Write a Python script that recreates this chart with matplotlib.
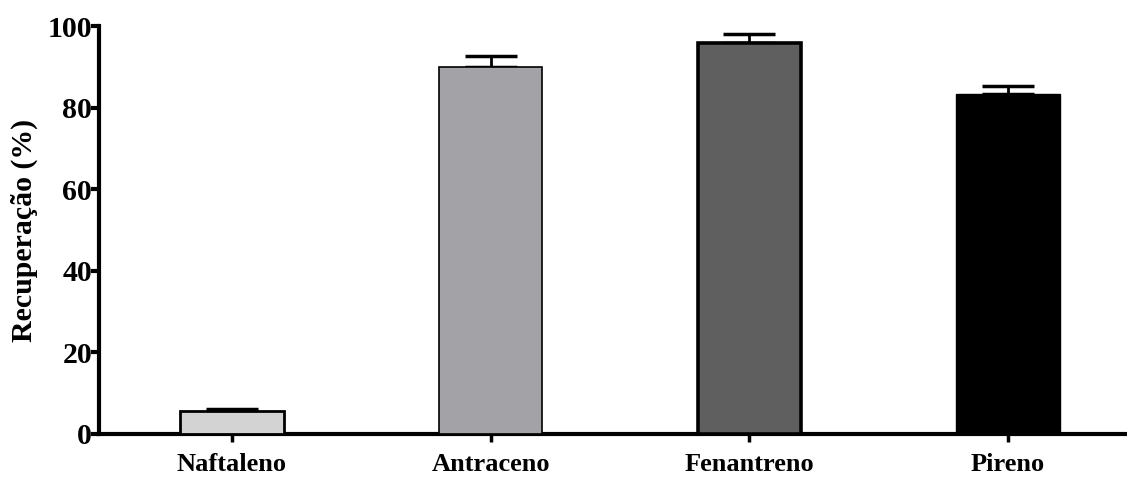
import matplotlib
matplotlib.use("Agg")
import matplotlib.pyplot as plt
import numpy as np

categories = ["Naftaleno", "Antraceno", "Fenantreno", "Pireno"]
values = [5.6, 90.0, 95.8, 83.3]
errors = [0.5, 2.6, 2.2, 2.0]
colors = ["#d3d3d3", "#a3a2a6", "#5f5f5f", "#000000"]
edge_widths = [2.0, 1.2, 2.6, 1.0]
yticks = [0, 20, 40, 60, 80, 100]

plt.rcParams['font.family'] = ['Liberation Serif', 'DejaVu Serif']
plt.rcParams['font.weight'] = 'bold'

fig = plt.figure(figsize=(11.27, 4.79), dpi=100)
ax = fig.add_axes([0.0878, 0.094, 0.9122, 0.8517])

x = np.arange(len(categories))
ax.bar(x, values, width=0.4, color=colors, edgecolor="black", linewidth=edge_widths, zorder=3)
for xi, v, e in zip(x, values, errors):
    ax.errorbar(xi, v, yerr=[[0], [e]], fmt='none', ecolor='black', elinewidth=2,
                capsize=19, capthick=2.5, zorder=2)

ax.set_xlim(-0.514, 3.46)
ax.set_ylim(0, 100)
ax.set_yticks(yticks)
ax.set_yticklabels([str(t) for t in yticks], fontsize=21.5, fontweight='bold')
ax.set_xticks(x)
ax.set_xticklabels(categories, fontsize=19, fontweight='bold')
ax.set_ylabel("Recuperação (%)", fontsize=21.5, fontweight='bold', labelpad=7)

for s in ['top', 'right']:
    ax.spines[s].set_visible(False)
for s in ['left', 'bottom']:
    ax.spines[s].set_linewidth(3)
ax.tick_params(axis='y', length=6, width=3, pad=-1)
ax.tick_params(axis='x', length=6, width=2.5, pad=8)

fig.savefig("out.png", dpi=100)
